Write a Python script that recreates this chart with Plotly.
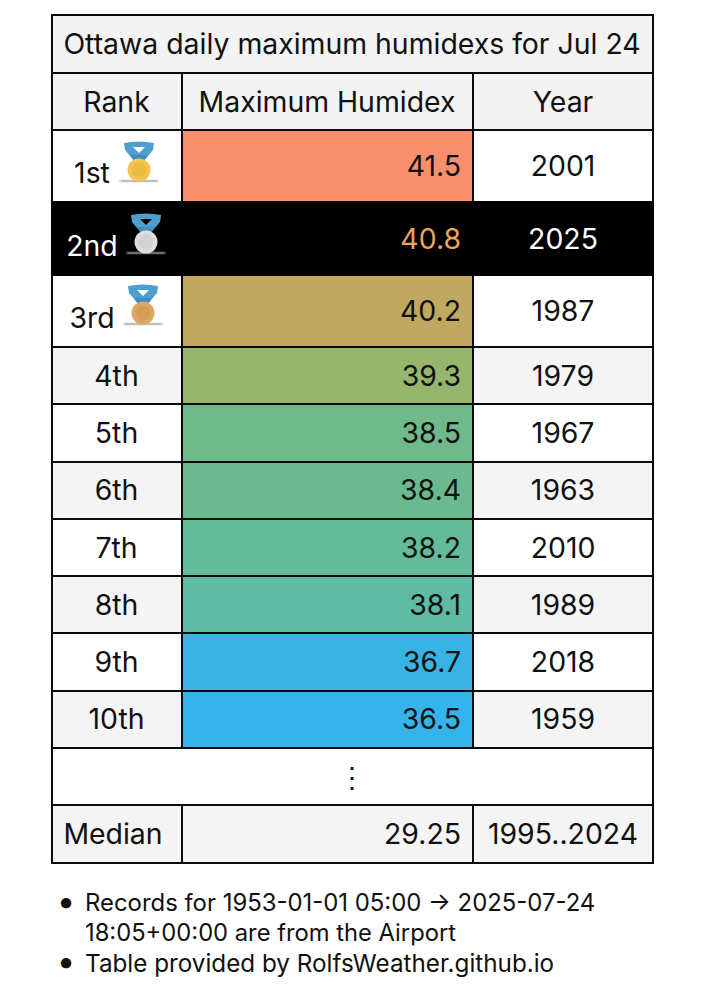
import plotly.graph_objects as go

TITLE = "Ottawa daily maximum humidexs for Jul 24"
HEADERS = ["Rank", "Maximum Humidex", "Year"]
ranks = ["1st", "2nd", "3rd", "4th", "5th", "6th", "7th", "8th", "9th", "10th"]
humidex = [41.5, 40.8, 40.2, 39.3, 38.5, 38.4, 38.2, 38.1, 36.7, 36.5]
years = [2001, 2025, 1987, 1979, 1967, 1963, 2010, 1989, 2018, 1959]
median_row = ["Median", "29.25", "1995..2024"]
value_colors = ["#F98F6D", "#000000", "#C1A860", "#98B56E", "#6FB98A", "#6BBA8F",
                "#63BB9A", "#5FBBA1", "#38B3E6", "#35B3EB"]
medal_colors = ["#F4C54E", "#DEDEE0", "#DDA962"]
medal_inner = ["#EDBB45", "#D2D2D5", "#D39E58"]
notes = ["Records for 1953-01-01 05:00 → 2025-07-24", "18:05+00:00 are from the Airport",
         "Table provided by RolfsWeather.github.io"]

FONT = "Inter"
FS = 28.4
LINE = "#0A0A0A"
HEAD = "#F3F3F3"
STRIPE = "#F4F4F4"

# grid in page pixels (the axes below run 0-705 / 1000-0)
LEFT, C1, C2, RIGHT = 52, 182, 473, 653
TOP = 15
heights = [57.5, 57.5, 72.3, 72.3, 72.3] + [57.3] * 9
DY = 3  # text sits a bit above the scatter text midline

edges = [TOP]
for h in heights:
    edges.append(edges[-1] + h)
mid = [(a + b) / 2 for a, b in zip(edges, edges[1:])]
data_mid = mid[2:12]
data_h = heights[2:12]

fig = go.Figure()


def add_cells(x0, x1, ys, hs, fills, lines):
    fig.add_bar(orientation="h", y=ys, x=[x1 - x0] * len(ys), base=x0, width=hs,
                marker=dict(color=fills, line=dict(color=lines, width=2)),
                hoverinfo="skip", showlegend=False)


def add_text(xs, ys, texts, pos="middle center", colors="#111111", size=FS):
    fig.add_scatter(x=xs, y=[y + DY for y in ys], text=texts, mode="text", textposition=pos,
                    textfont=dict(family=FONT, size=size, color=colors),
                    hoverinfo="skip", showlegend=False)


row_fill = ["#FFFFFF", "#000000", "#FFFFFF"] + [STRIPE if i % 2 else "#FFFFFF" for i in range(3, 10)]

# title, dots and median rows
add_cells(LEFT, RIGHT, [mid[0]], [heights[0]], [HEAD], [LINE])
add_cells(LEFT, RIGHT, [mid[12]], [heights[12]], ["#FFFFFF"], [LINE])
for x0, x1 in [(LEFT, C1), (C1, C2), (C2, RIGHT)]:
    add_cells(x0, x1, [mid[1], mid[13]], [heights[1], heights[13]], [HEAD, STRIPE], [LINE, LINE])

# data rows, the black row (index 1) last so that its fill covers the grid
cols = [(LEFT, C1, row_fill), (C1, C2, value_colors), (C2, RIGHT, row_fill)]
for x0, x1, fills in cols:
    add_cells(x0, x1, data_mid, data_h, fills, [LINE] * 10)
fig.add_bar(orientation="h", y=[data_mid[1]], x=[RIGHT - LEFT], base=LEFT, width=[data_h[1]],
            marker=dict(color="#000000", line=dict(color="#000000", width=2)),
            hoverinfo="skip", showlegend=False)

add_text([352], [mid[0]], [TITLE])
add_text([116.5, 327, 563], [mid[1] + 1] * 3, HEADERS)

# rank labels sit a little low on the medal rows
rank_y = [y + (7 if i < 3 else 0) for i, y in enumerate(data_mid)]
add_text([92 if i < 3 else 116.5 for i in range(10)], rank_y, ranks,
         colors=["#FFFFFF" if i == 1 else "#111111" for i in range(10)])
add_text([461] * 10, data_mid, [f"{v:.1f}" for v in humidex], pos="middle left",
         colors=["#E8A45E" if i == 1 else "#111111" for i in range(10)])
add_text([563] * 10, data_mid, [str(y) for y in years],
         colors=["#FFFFFF" if i == 1 else "#111111" for i in range(10)])

add_text([352], [mid[12]], ["⋮"])
add_text([113, 563], [mid[13]] * 2, [median_row[0], median_row[2]])
add_text([461], [mid[13]], [median_row[1]], pos="middle left")

# medals
medal_x = [139, 146, 143]
medal_y = [170, 242, 313]
shapes = []
for i, (mx, my) in enumerate(zip(medal_x, medal_y)):
    hole = "#000000" if i == 1 else "#FFFFFF"
    shapes.append(dict(type="line", x0=mx - 20, x1=mx + 20, y0=my + 11, y1=my + 11,
                       line=dict(color="#B0B0B5", width=3), opacity=0.35))
    shapes.append(dict(type="line", x0=mx - 18, x1=mx + 18, y0=my + 11, y1=my + 11,
                       line=dict(color="#9A9AA0", width=1)))
    shapes.append(dict(type="path", line=dict(width=0), fillcolor="#4E9FCE",
                       path=f"M{mx-15},{my-27} Q{mx},{my-30} {mx+15},{my-27} L{mx+14},{my-20} "
                            f"L{mx+4},{my-8} L{mx-4},{my-8} L{mx-14},{my-20} Z"))
    shapes.append(dict(type="path", line=dict(width=0), fillcolor="#3F8DBB",
                       path=f"M{mx-9},{my-15} L{mx+9},{my-15} L{mx+4},{my-8} L{mx-4},{my-8} Z"))
    shapes.append(dict(type="path", line=dict(width=0), fillcolor=hole,
                       path=f"M{mx-6},{my-23} L{mx+6},{my-23} L{mx},{my-17} Z"))
    shapes.append(dict(type="circle", x0=mx - 11.5, x1=mx + 11.5, y0=my - 11.5, y1=my + 11.5,
                       fillcolor=medal_colors[i], line=dict(width=0)))
    shapes.append(dict(type="circle", x0=mx - 7.5, x1=mx + 7.5, y0=my - 7.5, y1=my + 7.5,
                       fillcolor=medal_inner[i], line=dict(width=0)))

# footnotes
add_text([66, 66], [902, 962], ["•", "•"], size=33)
add_text([85, 85, 85], [902.5, 932.5, 962.5], notes, pos="middle right", size=[23.9, 23.75, 24.25])

fig.update_layout(
    width=705, height=1000, margin=dict(l=0, r=0, t=0, b=0),
    barmode="overlay", bargap=0, plot_bgcolor="white", paper_bgcolor="white",
    xaxis=dict(range=[0, 705], visible=False, fixedrange=True),
    yaxis=dict(range=[1000, 0], visible=False, fixedrange=True),
    shapes=shapes,
)
fig.write_html("out.html", config={"displayModeBar": False},
               post_script="document.body.style.margin='0';")
